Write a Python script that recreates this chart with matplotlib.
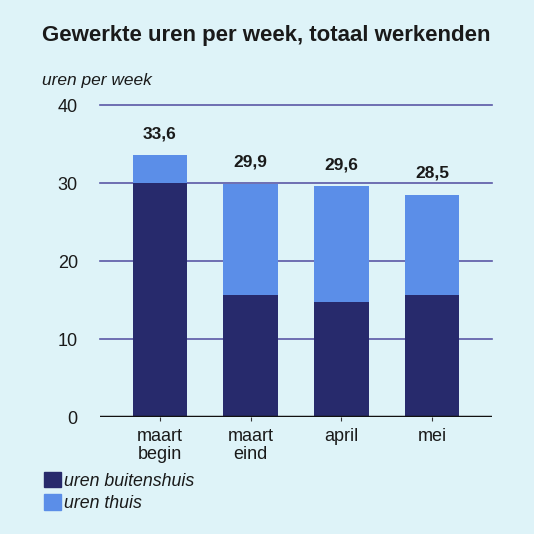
import matplotlib
matplotlib.use("Agg")
import matplotlib.pyplot as plt
from matplotlib.patches import Patch

# data
categories = ["maart\nbegin", "maart\neind", "april", "mei"]
uren_buitenshuis = [30.0, 15.6, 14.7, 15.6]
uren_thuis = [3.6, 14.3, 14.9, 12.9]
totals = ["33,6", "29,9", "29,6", "28,5"]
yticks = [0, 10, 20, 30, 40]

bg = "#def3f8"
dark = "#272a6c"
light = "#5b8ee8"
gridc = "#5a58a6"

plt.rcParams["font.family"] = ["Liberation Sans", "DejaVu Sans"]

W = H = 534
fig = plt.figure(figsize=(W / 100, H / 100), dpi=100, facecolor=bg)

ax = fig.add_axes([100 / W, 117 / H, 392 / W, 312 / H])
ax.set_facecolor(bg)

x = range(len(categories))
ax.bar(x, uren_buitenshuis, width=0.6, color=dark, zorder=3)
ax.bar(x, uren_thuis, width=0.6, bottom=uren_buitenshuis, color=light, zorder=3)

for i, lab in enumerate(totals):
    top = uren_buitenshuis[i] + uren_thuis[i]
    ax.annotate(lab, (i, top), xytext=(0, 10), textcoords="offset points",
                ha="center", va="bottom", fontsize=12.5, fontweight="bold",
                color="#1a1a1a")

ax.set_xlim(-0.66, 3.66)
ax.set_ylim(0, 40)
ax.set_yticks(yticks)
ax.set_yticklabels([str(t) for t in yticks], fontsize=13, color="#1a1a1a")
ax.set_xticks(list(x))
ax.set_xticklabels(categories, fontsize=13, color="#1a1a1a", linespacing=1.05)
ax.tick_params(axis="y", length=0, pad=16)
ax.tick_params(axis="x", length=3, width=0.8, color="#333333", pad=5)

for t in yticks[1:]:
    ax.axhline(t, color=gridc, lw=1.2, zorder=1, clip_on=False)
ax.axhline(0, color="#111111", lw=2.5, zorder=4)

for s in ax.spines.values():
    s.set_visible(False)

fig.text(42 / W, 1 - 36 / H, "Gewerkte uren per week, totaal werkenden",
         fontsize=16, fontweight="bold", color="#1a1a1a", va="center")
fig.text(42 / W, 1 - 80 / H, "uren per week", fontsize=12.5, style="italic",
         color="#1a1a1a", va="center")

handles = [Patch(color=dark, label="uren buitenshuis"),
           Patch(color=light, label="uren thuis")]
leg = fig.legend(handles=handles, loc="upper left",
                 bbox_to_anchor=(44 / W, 1 - 472 / H), frameon=False,
                 prop={"size": 12.8, "style": "italic"}, handlelength=0.95,
                 handleheight=0.95, handletextpad=0.2, labelspacing=0.25,
                 borderaxespad=0, borderpad=0)
for txt in leg.get_texts():
    txt.set_color("#1a1a1a")

fig.savefig("out.png", dpi=100, facecolor=bg)
